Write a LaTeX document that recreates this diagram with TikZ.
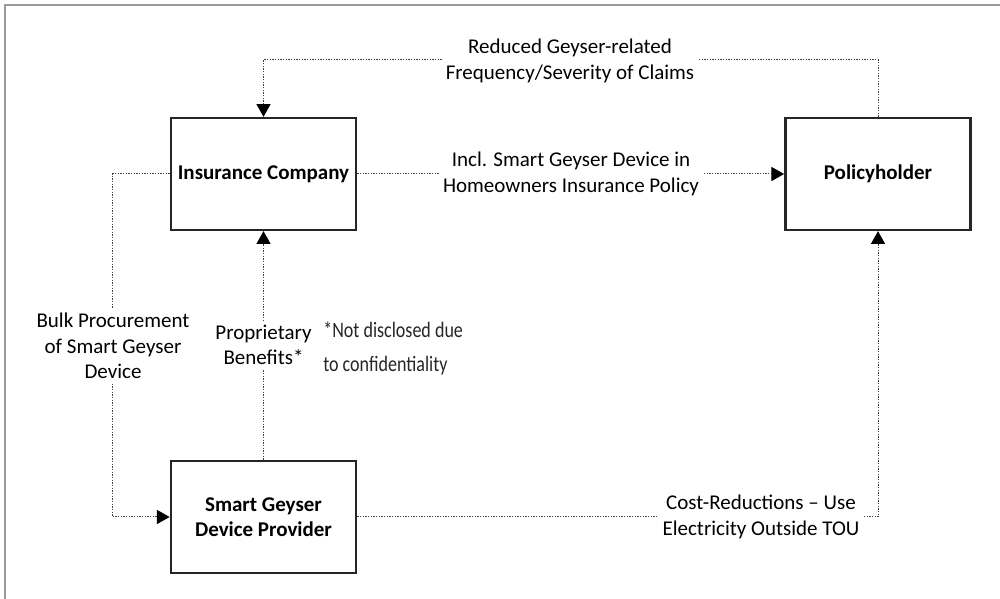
\documentclass[tikz,border=0pt]{standalone}
\usepackage{fontspec}
\setmainfont{Carlito}
\newfontfamily\notefont[FakeStretch=0.82]{Carlito}
\usetikzlibrary{arrows.meta}
\tikzset{
  party box/.style={draw=black!85, line width=1.8pt, minimum width=139pt, minimum height=84pt,
    align=center, font=\bfseries\fontsize{15.75}{19}\selectfont},
  flow line/.style={line width=0.75pt, black!75, dash pattern=on 1pt off 1pt},
  flow arrow/.style={flow line, -{Triangle[length=9.5pt, width=10.5pt, color=black]}},
  flow label/.style={fill=white, align=center, inner sep=3pt, font=\fontsize{15.75}{19}\selectfont},
  note label/.style={align=left, anchor=west, inner sep=0pt, text=black!85,
    font=\notefont\fontsize{16.5}{25.5}\selectfont},
  frame line/.style={line width=1.5pt, black!40},
}

\begin{document}
\begin{tikzpicture}[x=0.75pt, y=0.75pt]
  \useasboundingbox (0,0) rectangle (1000,599);
  % outer frame, only top and left edges show
  \draw[frame line] (4.5,0) -- (4.5,594) -- (1000,594);

  % the three parties
  \node[party box] (ins) at (263.5,425) {Insurance Company};
  \node[party box] (pol) at (878,425) {Policyholder};
  \node[party box] (dev) at (263.5,82) {Smart Geyser\\Device Provider};

  % flows between them
  \draw[flow arrow] (pol.north) -- ++(0,57) -| (ins.north);
  \draw[flow arrow] (ins.east) -- (pol.west);
  \draw[flow arrow] (ins.west) -- ++(-57,0) |- (dev.west);
  \draw[flow arrow] (dev.north) -- (ins.south);
  \draw[flow arrow] (dev.east) -| (pol.south);

  % labels on top of the flows
  \node[flow label] (claims) at (570,538) {Reduced Geyser-related\\Frequency/Severity of Claims};
  \node[flow label] (policy) at (571,425) {Incl. Smart Geyser Device in\\Homeowners Insurance Policy};
  \node[flow label] (bulk) at (113,253) {Bulk Procurement\\of Smart Geyser\\Device};
  \node[flow label] (benefits) at (263.5,254) {Proprietary\\Benefits*};
  \node[flow label] (cost) at (761,82) {Cost-Reductions -- Use\\Electricity Outside TOU};
  \node[note label] (note) at (323,251) {*Not disclosed due\\to confidentiality};
\end{tikzpicture}
\end{document}
